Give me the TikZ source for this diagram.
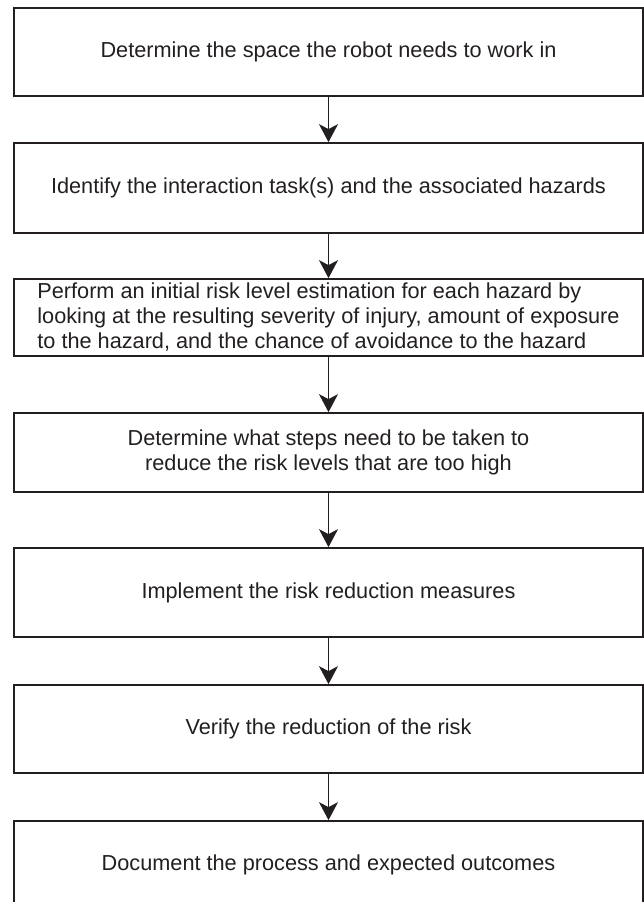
\documentclass[tikz,border=0pt]{standalone}
\usepackage{fontspec}
\setmainfont{Liberation Sans}
\usepackage{tikz}
\usetikzlibrary{arrows.meta}
\definecolor{ink}{HTML}{231F20}

\begin{document}
\begin{tikzpicture}[x=1pt, y=-1pt,
	stage/.style={draw=ink, line width=1.7pt, text=ink, minimum width=629pt,
		inner sep=0pt, font=\fontsize{21.7}{25}\selectfont},
	flow/.style={draw=ink, line width=1.7pt,
		-{Stealth[length=18pt, width=19pt, inset=5pt]}}]
\clip (0, 0) rectangle (644, 902);
\node[stage, minimum height=88pt] (space) at (328.5, 52)
	{Determine the space the robot needs to work in};
\node[stage, minimum height=90pt] (tasks) at (328.5, 188)
	{Identify the interaction task(s) and the associated hazards};
\node[stage, minimum height=77pt, align=left] (estimate) at (328.5, 317.5)
	{Perform an initial risk level estimation for each hazard by\\
	looking at the resulting severity of injury, amount of exposure\\
	to the hazard, and the chance of avoidance to the hazard};
\node[stage, minimum height=79pt, align=center] (steps) at (328.5, 452.5)
	{Determine what steps need to be taken to\\
	reduce the risk levels that are too high};
\node[stage, minimum height=89pt] (implement) at (328.5, 592.5)
	{Implement the risk reduction measures};
\node[stage, minimum height=88pt] (verify) at (328.5, 729)
	{Verify the reduction of the risk};
\node[stage, minimum height=88pt] (document) at (328.5, 865)
	{Document the process and expected outcomes};

\draw[flow] (space) -- (tasks);
\draw[flow] (tasks) -- (estimate);
\draw[flow] (estimate) -- (steps);
\draw[flow] (steps) -- (implement);
\draw[flow] (implement) -- (verify);
\draw[flow] (verify) -- (document);

\end{tikzpicture}
\end{document}
